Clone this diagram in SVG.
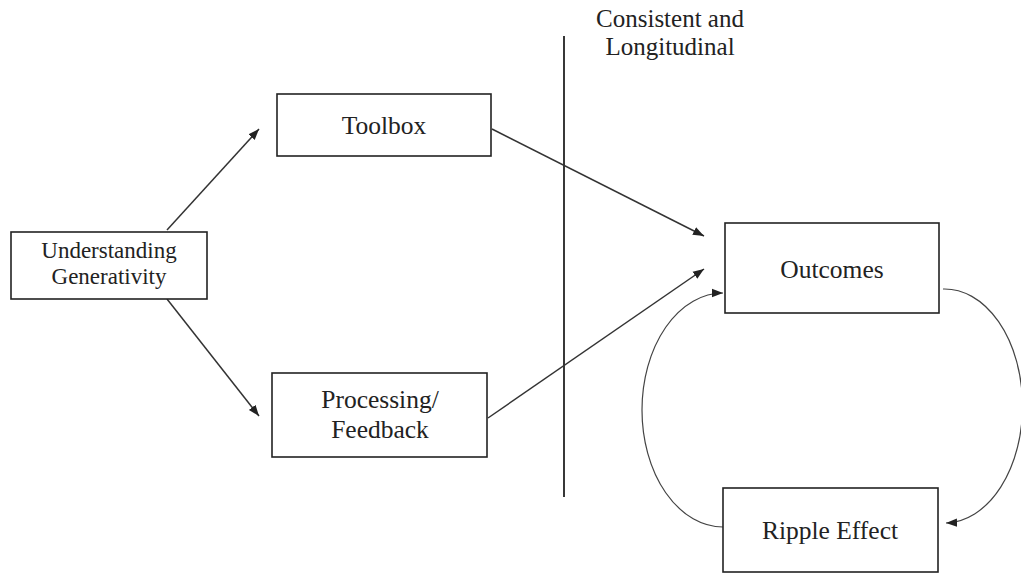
<svg xmlns="http://www.w3.org/2000/svg" width="1021" height="574" viewBox="0 0 1021 574">
<style>
.box{fill:#fff;stroke:#222;stroke-width:1.6}
.t{font-family:"Liberation Serif","Times New Roman","DejaVu Serif",serif;fill:#222;text-anchor:middle}
.ln{fill:none;stroke:#333;stroke-width:1.5}
.cv{fill:none;stroke:#444;stroke-width:1.2}
</style>
<defs>
<marker id="ah" markerUnits="userSpaceOnUse" markerWidth="12" markerHeight="10" refX="11" refY="5" orient="auto">
<path d="M0,0.8 L11,5 L0,9.2 z" fill="#222"/>
</marker>
</defs>
<rect width="1021" height="574" fill="#fff"/>
<g id="divider">
<line x1="564" y1="36" x2="564" y2="497" stroke="#222" stroke-width="1.8"/>
<text class="t" font-size="25" x="670" y="27">Consistent and</text>
<text class="t" font-size="25" x="670" y="55">Longitudinal</text>
</g>
<g id="connectors">
<line class="ln" x1="167" y1="230" x2="259" y2="129" marker-end="url(#ah)"/>
<line class="ln" x1="167" y1="299" x2="259" y2="416" marker-end="url(#ah)"/>
<line class="ln" x1="492" y1="129" x2="704" y2="236" marker-end="url(#ah)"/>
<line class="ln" x1="488" y1="418" x2="704" y2="269" marker-end="url(#ah)"/>
<path class="cv" d="M943,289 A78,117 0 0 1 946,523" marker-end="url(#ah)"/>
<path class="cv" d="M723,527 A81,117 0 0 1 723,293" marker-end="url(#ah)"/>
</g>
<g id="understanding">
<rect class="box" x="11" y="232" width="196" height="67"/>
<text class="t" font-size="23" x="109" y="258">Understanding</text>
<text class="t" font-size="23" x="109" y="284">Generativity</text>
</g>
<g id="toolbox">
<rect class="box" x="277" y="94" width="214" height="62"/>
<text class="t" font-size="25.5" x="384" y="134">Toolbox</text>
</g>
<g id="processing">
<rect class="box" x="272" y="373" width="215" height="84"/>
<text class="t" font-size="25.5" x="380" y="408">Processing/</text>
<text class="t" font-size="25.5" x="380" y="438">Feedback</text>
</g>
<g id="outcomes">
<rect class="box" x="725" y="223" width="214" height="90"/>
<text class="t" font-size="25.5" x="832" y="278">Outcomes</text>
</g>
<g id="ripple">
<rect class="box" x="723" y="488" width="215" height="84"/>
<text class="t" font-size="25.5" x="830" y="539">Ripple Effect</text>
</g>
</svg>
